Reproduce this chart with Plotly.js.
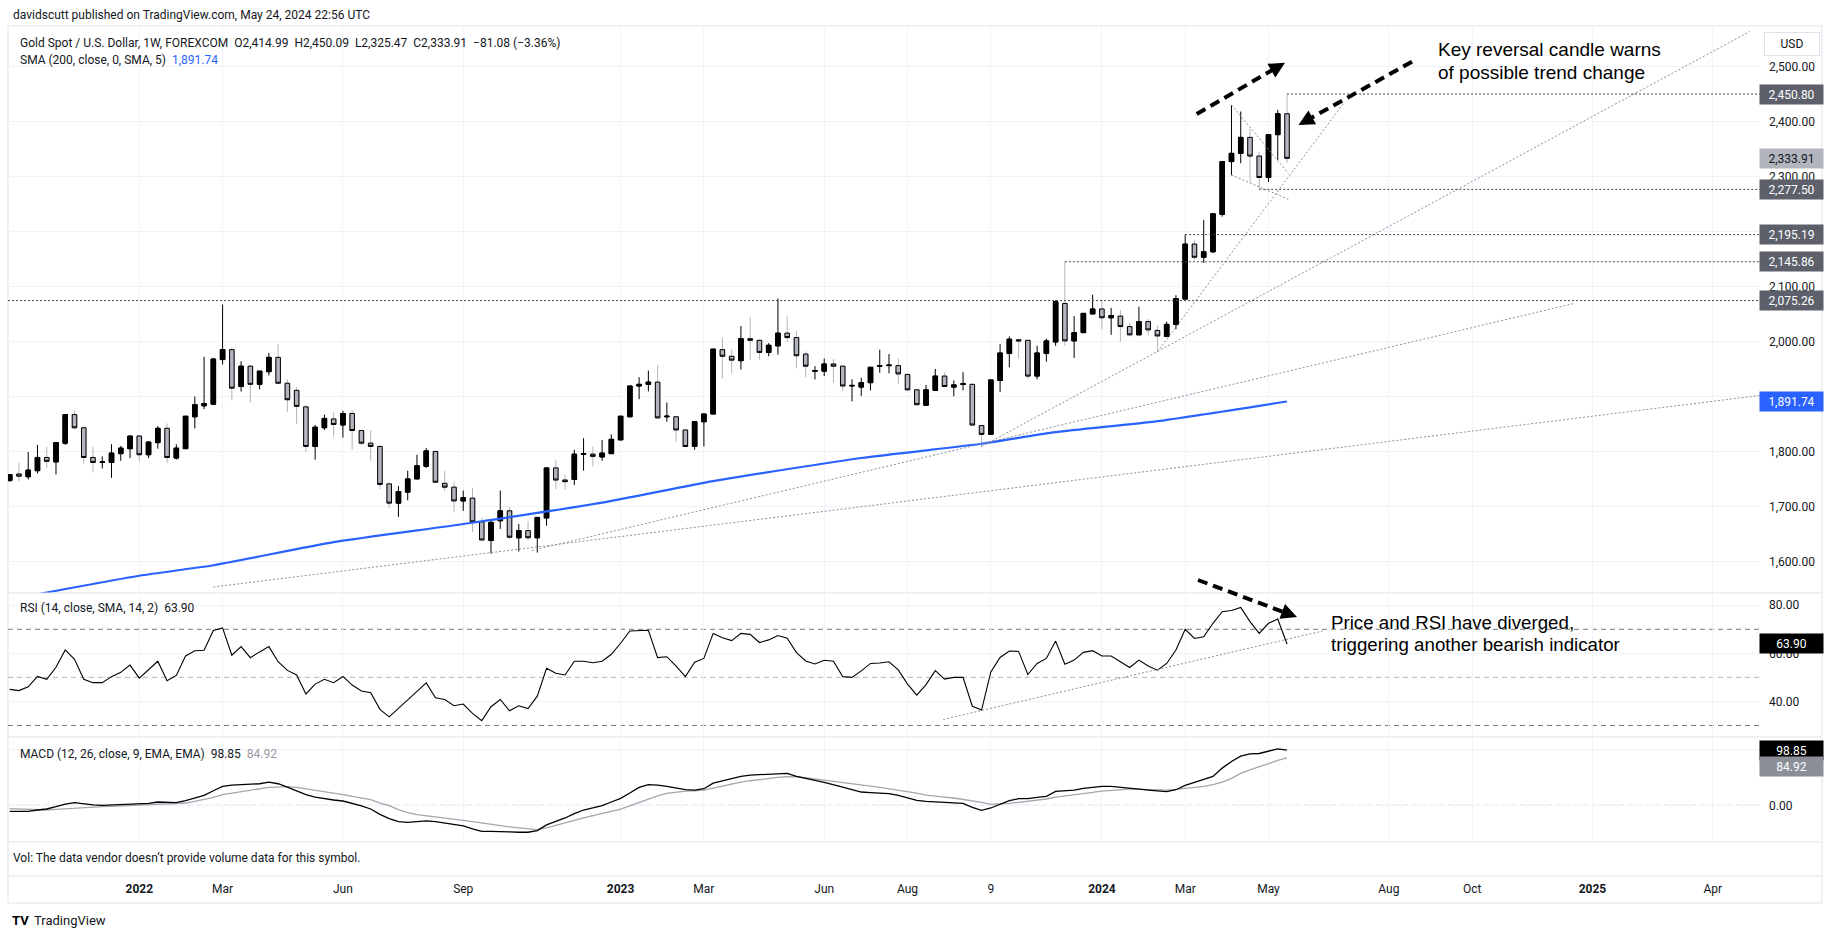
<!DOCTYPE html>
<html>
<head>
<meta charset="utf-8">
<script src="https://cdn.plot.ly/plotly-3.0.1.min.js"></script>
<style>
html, body { margin: 0; padding: 0; background: #ffffff; }
#chart { width: 1835px; height: 939px; }
</style>
</head>
<body>
<div id="chart"></div>
<script>
// Gold spot weekly bars, Monday dates, first bar 2021-09-27
var firstWeek = Date.UTC(2021, 8, 27);

var open = [1748,1760,1755,1766,1790,1782,1816,1868,1844,1790,1781,1781,1797,1806,1829,1795,1817,1843,1789,1806,
  1864,1884,1887,1968,1986,1919,1956,1923,1946,1972,1925,1912,1882,1810,1844,1860,1849,1870,1839,1816,
  1810,1742,1707,1727,1751,1774,1801,1743,1736,1711,1716,1673,1639,1675,1693,1644,1657,1644,1680,1771,
  1749,1750,1796,1796,1791,1797,1822,1864,1920,1923,1927,1864,1864,1840,1810,1855,1869,1986,1974,1966,
  2006,2003,1981,1993,2016,2008,1978,1947,1947,1960,1956,1920,1918,1926,1956,1957,1957,1941,1913,1885,
  1912,1938,1918,1923,1923,1848,1832,1930,1979,2004,2003,1938,1979,2000,2070,2002,2017,2051,2060,2044,
  2047,2028,2013,2037,2021,2010,2032,2078,2178,2154,2164,2232,2328,2343,2372,2338,2299,2377,2414.99];
var high = [1760,1780,1800,1813,1809,1817,1868,1875,1846,1809,1792,1814,1811,1829,1830,1820,1847,1852,1814,1865,
  1901,1973,1970,2068,1989,1965,1958,1947,1980,1996,1933,1918,1885,1849,1868,1873,1875,1876,1840,1840,
  1813,1744,1738,1766,1795,1807,1802,1766,1746,1730,1735,1680,1675,1730,1700,1669,1674,1681,1772,1786,
  1759,1804,1825,1810,1822,1832,1865,1920,1936,1948,1958,1890,1865,1841,1855,1869,1987,2008,1987,2029,
  2046,2004,1998,2079,2047,2020,1983,1956,1970,1969,1957,1932,1935,1954,1986,1978,1970,1942,1914,1922,
  1951,1945,1930,1945,1924,1849,1931,1996,2010,2006,2004,1993,2006,2076,2146,2047,2052,2086,2077,2062,
  2058,2035,2064,2042,2030,2037,2085,2195,2185,2222,2234,2328,2431,2419,2388,2346,2377,2422,2450.09];
var low = [1746,1747,1750,1761,1771,1759,1813,1841,1779,1763,1770,1753,1784,1789,1783,1789,1806,1780,1786,1806,
  1843,1878,1886,1959,1894,1910,1890,1914,1939,1924,1873,1851,1800,1786,1840,1828,1826,1804,1813,1784,
  1732,1698,1682,1712,1751,1771,1744,1729,1690,1693,1654,1639,1615,1660,1642,1619,1639,1617,1666,1732,
  1732,1740,1766,1774,1784,1797,1822,1864,1896,1910,1860,1855,1819,1810,1804,1810,1869,1934,1943,1950,
  1967,1968,1974,1977,2000,1952,1936,1932,1938,1926,1911,1892,1902,1912,1944,1943,1924,1911,1885,1885,
  1912,1918,1901,1912,1848,1810,1832,1909,1954,1970,1933,1932,1964,1993,1993,1971,2016,2051,2023,2013,
  2000,2010,2013,2012,1984,2010,2023,2076,2149,2144,2162,2228,2303,2325,2291,2277.5,2291,2331,2325.47];
var close = [1759,1756,1767,1790,1783,1817,1868,1844,1790,1781,1782,1798,1807,1829,1795,1818,1843,1790,1807,1865,
  1886,1888,1969,1986,1916,1956,1923,1947,1972,1925,1895,1883,1810,1845,1861,1850,1870,1839,1816,1810,
  1741,1707,1728,1751,1775,1802,1745,1736,1711,1717,1673,1640,1672,1693,1645,1657,1644,1681,1771,1749,
  1746,1796,1797,1792,1798,1823,1865,1920,1923,1927,1862,1865,1840,1810,1855,1869,1987,1974,1967,2006,
  2003,1981,1994,2016,2008,1975,1956,1948,1960,1956,1920,1921,1926,1954,1957,1958,1942,1913,1886,1913,
  1938,1919,1922,1924,1849,1832,1931,1980,2005,2002,1938,1980,2002,2073,2002,2017,2052,2060,2044,2048,
  2028,2013,2037,2022,2011,2032,2079,2178,2154,2164,2233,2328,2343,2372,2338,2299,2377,2415,2333.91];

// SMA 200 read at a few weeks
var smaDates = ['2021-09-27','2022-01-03','2022-02-28','2022-05-30','2022-09-05','2022-12-19',
  '2023-03-13','2023-07-03','2023-10-02','2023-11-27','2024-02-12','2024-05-20'];
var smaValues = [1532,1575,1594,1636,1669,1708,1747,1789,1815,1836,1856,1891.74];

var rsi = [45.0,44.5,46.1,50.4,49.2,54.2,61.4,57.5,49.2,47.8,
  47.8,50.3,52.1,55.1,49.7,53.2,56.7,48.6,50.8,58.9,
  61.1,61.3,69.5,70.6,59.2,62.8,58.2,60.6,62.8,56.5,
  52.9,51.0,43.1,47.2,49.2,47.8,50.4,46.8,44.3,43.6,
  36.7,33.6,37.0,40.4,44.2,47.7,41.5,40.8,38.2,38.9,
  35.0,32.0,37.8,40.8,36.1,38.2,37.0,42.2,53.8,51.7,
  51.0,56.7,56.7,56.1,56.7,59.6,64.2,69.3,69.5,69.6,
  58.2,58.6,54.7,50.3,56.3,57.9,68.3,66.5,65.3,68.3,
  67.9,64.5,65.6,67.4,66.3,60.3,56.8,55.6,57.1,56.7,
  50.3,50.0,52.7,55.8,56.0,56.5,53.1,47.2,42.6,47.0,
  52.8,49.3,50.0,50.0,38.0,36.4,52.3,58.3,61.0,60.8,
  51.2,55.8,57.9,65.1,55.5,57.2,60.4,61.1,58.9,58.9,
  56.5,54.1,57.2,54.7,53.0,55.8,61.4,70.0,66.2,66.9,
  72.5,77.3,77.8,79.1,73.2,68.3,72.5,74.3,63.9];

var macd = [-10.8,-10.8,-10.8,-8.4,-6.6,-2.4,2.3,4.7,2.3,0.6,
  0,0.6,1.7,2.3,2.9,3.5,5.9,5.3,4.7,8.3,
  12.5,17.8,26.1,33.9,36.3,37.4,38,38.6,41.6,38.6,
  32.7,26.1,19,14.8,11.9,9.5,7.7,3.5,-1.2,-6.6,
  -16.1,-23.8,-29.2,-30.4,-28.6,-28,-29.2,-31.6,-34,-36.9,
  -42.3,-46.5,-46.5,-46.5,-47.6,-48.2,-48.2,-45.3,-35.1,-28.6,
  -22.7,-14.9,-8.4,-4.8,-0.6,5.9,12.5,22,32.1,36.9,
  36.3,33.9,31.5,27.9,27.3,29.7,39.8,44,47.6,51.7,
  54.1,54.7,55.3,56.5,57.1,51.7,48.8,44.6,41,37.4,
  32.7,27.9,23.8,22.6,21.4,20.8,17.8,13.6,8.9,7.1,
  5.9,4.7,4.1,3.5,-3.6,-9,-4.8,1.7,8.3,11.9,
  11.9,14.2,16,25,26.1,27.3,30.3,32.7,33.9,33.9,
  32.7,30.3,29.1,27.3,25.5,24.4,27.9,35.7,41,45.8,
  51.7,66.6,78.5,88,92.2,92.8,97,101.1,98.85];

var signal = [-6,-6.6,-7.2,-7.8,-8.4,-7.2,-6,-4.8,-3.6,-3,
  -2.4,-1.8,-1.2,0,0.6,1.7,2.3,2.9,3.5,4.1,
  7.1,10.1,14.2,19,21.4,24.4,27.3,29.7,32.1,32.7,
  33.3,32.1,29.7,27.3,25,22.6,19,16,13.1,10.1,
  4.1,-0.6,-7.8,-13.1,-16.7,-18.5,-21.5,-22.7,-24.4,-26.8,
  -29.2,-31.6,-35.1,-36.9,-38.7,-40.5,-42.3,-43.5,-40.5,-35.7,
  -31.6,-26.8,-22.7,-19.1,-14.9,-11.3,-7,-1,5,11,
  17,21.5,24,25.5,26.1,27.3,30.9,34.5,38.6,41.6,
  44,46.4,48.8,49.9,51.1,51.1,49.3,47.6,45.2,42.8,
  41,38.6,36.3,34.5,32.1,29.7,27.9,25.5,22,18.4,
  16,14.8,13.1,10.7,8.3,5.3,1.7,2.3,3.5,5.3,
  7.1,9.5,11.3,14.8,16.6,19,21.4,23.2,25.5,26.7,
  28.5,29.1,29.1,28.5,27.9,27.3,28.5,30.3,31.5,33.9,
  36.9,41.6,48.2,57.1,63.6,69.6,75.5,80.3,84.92];

// horizontal price levels drawn on the chart
var levelValues = [2450.80, 2277.50, 2195.19, 2145.86, 2075.26];
var levelStarts = ['2024-05-20', '2024-04-29', '2024-03-04', '2023-12-04', '2021-09-25 17:00'];

// dotted trend lines (start date, start price, end date, end price)
var trendStartDates = ['2022-02-28', '2022-10-27', '2023-10-02', '2024-02-12', '2024-04-08', '2024-04-08'];
var trendStartValues = [1554.5, 1621, 1810, 1982, 2431, 2303.6];
var trendEndDates = ['2025-05-12', '2024-12-23', '2025-05-05', '2024-07-02', '2024-05-21', '2024-05-21'];
var trendEndValues = [1902.6, 2070, 2564.6, 2434.5, 2306.7, 2259.5];

var rsiTrendDates = ['2023-09-03', '2024-06-16'];
var rsiTrendValues = [32.5, 69.3];

var tickDates = ['2022-01-03','2022-03-07','2022-06-06','2022-09-05','2023-01-02','2023-03-06','2023-06-05',
  '2023-08-07','2023-10-09','2024-01-01','2024-03-04','2024-05-06','2024-08-05','2024-10-07','2025-01-06','2025-04-07'];
var tickLabels = ['<b>2022</b>','Mar','Jun','Sep','<b>2023</b>','Mar','Jun','Aug','9','<b>2024</b>','Mar','May',
  'Aug','Oct','<b>2025</b>','Apr'];

var weeks = open.map(function (v, i) {
  return new Date(firstWeek + i * 7 * 86400000).toISOString().slice(0, 10);
});

var W = 1835, H = 939;
function px(x) { return x / W; }
function py(y) { return 1 - y / H; }
function fmt(v) {
  return v.toLocaleString('en-US', { minimumFractionDigits: 2, maximumFractionDigits: 2 });
}

var xStart = '2021-09-25 17:00', xEnd = '2025-05-12 17:00';
var dark = '#131722';

var traces = [];

// full candles: wick colours
traces.push({
  type: 'candlestick', x: weeks, open: open, high: high, low: low, close: close,
  xaxis: 'x', yaxis: 'y', whiskerwidth: 0, hoverinfo: 'skip',
  increasing: { line: { color: '#000000', width: 1 }, fillcolor: '#000000' },
  decreasing: { line: { color: '#b2b5be', width: 1 }, fillcolor: '#b2b5be' }
});
// bodies again with black borders
traces.push({
  type: 'candlestick', x: weeks, open: open, close: close,
  high: open.map(function (o, i) { return Math.max(o, close[i]); }),
  low: open.map(function (o, i) { return Math.min(o, close[i]); }),
  xaxis: 'x', yaxis: 'y', whiskerwidth: 0, hoverinfo: 'skip',
  increasing: { line: { color: '#000000', width: 1 }, fillcolor: '#000000' },
  decreasing: { line: { color: '#000000', width: 1 }, fillcolor: '#b2b5be' }
});

traces.push({
  type: 'scatter', mode: 'lines', x: smaDates, y: smaValues, xaxis: 'x', yaxis: 'y',
  line: { color: '#2962ff', width: 2.2, shape: 'spline', smoothing: 0.6 }, hoverinfo: 'skip'
});

for (var i = 0; i < trendStartDates.length; i++) {
  traces.push({
    type: 'scatter', mode: 'lines', xaxis: 'x', yaxis: 'y', hoverinfo: 'skip',
    x: [trendStartDates[i], trendEndDates[i]], y: [trendStartValues[i], trendEndValues[i]],
    line: { color: '#8c8f99', width: 1, dash: '2px,2px' }
  });
}
for (var j = 0; j < levelValues.length; j++) {
  traces.push({
    type: 'scatter', mode: 'lines', xaxis: 'x', yaxis: 'y', hoverinfo: 'skip',
    x: [levelStarts[j], xEnd], y: [levelValues[j], levelValues[j]],
    line: { color: '#434651', width: 1, dash: '2px,2px' }
  });
}

// RSI pane
traces.push({
  type: 'scatter', mode: 'lines', x: weeks, y: rsi, xaxis: 'x', yaxis: 'y2',
  line: { color: '#000000', width: 1.1 }, hoverinfo: 'skip'
});
traces.push({
  type: 'scatter', mode: 'lines', x: rsiTrendDates, y: rsiTrendValues, xaxis: 'x', yaxis: 'y2',
  line: { color: '#8c8f99', width: 1, dash: '2px,2px' }, hoverinfo: 'skip'
});

// MACD pane
traces.push({
  type: 'scatter', mode: 'lines', x: weeks, y: signal, xaxis: 'x', yaxis: 'y3',
  line: { color: '#a3a6af', width: 1.3 }, hoverinfo: 'skip'
});
traces.push({
  type: 'scatter', mode: 'lines', x: weeks, y: macd, xaxis: 'x', yaxis: 'y3',
  line: { color: '#000000', width: 1.3 }, hoverinfo: 'skip'
});

var shapes = [];
var annotations = [];

// frame and pane separators
shapes.push({ type: 'rect', xref: 'paper', yref: 'paper', x0: px(8), x1: px(1822), y0: py(903), y1: py(26),
  line: { color: '#e0e3eb', width: 1 }, layer: 'below' });
[593, 737, 842, 876].forEach(function (y) {
  shapes.push({ type: 'line', xref: 'paper', yref: 'paper', x0: px(8), x1: px(1822), y0: py(y), y1: py(y),
    line: { color: '#e0e3eb', width: 1 } });
});

// RSI bands and MACD zero
[[70, '#787b86'], [50, '#b2b5be'], [30, '#787b86']].forEach(function (b) {
  shapes.push({ type: 'line', xref: 'paper', yref: 'y2', x0: px(8), x1: px(1760), y0: b[0], y1: b[0],
    line: { color: b[1], width: 1, dash: '5px,4px' }, layer: 'between' });
});
shapes.push({ type: 'line', xref: 'paper', yref: 'y3', x0: px(8), x1: px(1760), y0: 0, y1: 0,
  line: { color: '#b2b5be', width: 1, dash: '5px,4px' }, layer: 'between' });

// dashed arrows (pixel positions of the drawings)
var arrowPx = [
  [1196.7, 114, 1285, 62.7],
  [1412, 61.7, 1298.5, 125],
  [1198, 580, 1297, 617]
];
arrowPx.forEach(function (a) {
  var dx = a[2] - a[0], dy = a[3] - a[1];
  var len = Math.sqrt(dx * dx + dy * dy), ux = dx / len, uy = dy / len;
  shapes.push({ type: 'line', xref: 'paper', yref: 'paper',
    x0: px(a[0]), y0: py(a[1]), x1: px(a[2] - ux * 10), y1: py(a[3] - uy * 10),
    line: { color: '#000000', width: 4, dash: '10px,6px' } });
  annotations.push({ xref: 'paper', yref: 'paper', x: px(a[2]), y: py(a[3]),
    ax: -ux * 16, ay: -uy * 16, showarrow: true, arrowhead: 2, arrowsize: 0.9,
    arrowwidth: 3.5, arrowcolor: '#000000', text: '' });
});

// price scale labels
function tag(yref, value, text, bg, fg, yshift) {
  annotations.push({ xref: 'paper', x: px(1759), xanchor: 'left', yref: yref, y: value, yanchor: 'middle',
    text: text, showarrow: false, bgcolor: bg, font: { color: fg, size: 12, family: 'Roboto' },
    width: 57, height: 13, borderpad: 3, align: 'center', yshift: yshift || 0 });
}
levelValues.forEach(function (v) { tag('y', v, fmt(v), '#5d606b', '#ffffff'); });
tag('y', close[close.length - 1], fmt(close[close.length - 1]), '#b2b5be', dark);
tag('y', smaValues[smaValues.length - 1], fmt(smaValues[smaValues.length - 1]), '#2962ff', '#ffffff');
tag('y2', rsi[rsi.length - 1], rsi[rsi.length - 1].toFixed(2), '#000000', '#ffffff');
tag('y3', macd[macd.length - 1], macd[macd.length - 1].toFixed(2), '#000000', '#ffffff');
tag('y3', signal[signal.length - 1], signal[signal.length - 1].toFixed(2), '#8b8e97', '#ffffff', -9);

annotations.push({ xref: 'paper', yref: 'paper', x: px(1764), y: py(44), xanchor: 'left', yanchor: 'middle',
  text: 'USD', showarrow: false, bgcolor: '#ffffff', bordercolor: '#e0e3eb', borderwidth: 1,
  width: 50, height: 18, borderpad: 2, font: { size: 12, color: dark } });

// legends and captions
function label(x, y, text, size, family, color) {
  annotations.push({ xref: 'paper', yref: 'paper', x: px(x), y: py(y), xanchor: 'left', yanchor: 'middle',
    text: text, showarrow: false, align: 'left',
    font: { size: size || 12, family: family || 'Roboto', color: color || dark } });
}
var sp = '\u00a0\u00a0';
label(11, 15, 'davidscutt published on TradingView.com, May 24, 2024 22:56 UTC');
label(18, 43, 'Gold Spot / U.S. Dollar, 1W, FOREXCOM' + sp + 'O2,414.99' + sp + 'H2,450.09' + sp +
  'L2,325.47' + sp + 'C2,333.91' + sp + '\u221281.08 (\u22123.36%)');
label(18, 60, 'SMA (200, close, 0, SMA, 5)' + sp + '<span style="color:#2962ff">1,891.74</span>');
label(18, 608, 'RSI (14, close, SMA, 14, 2)' + sp + '63.90');
label(18, 754, 'MACD (12, 26, close, 9, EMA, EMA)' + sp + '98.85' + sp + '<span style="color:#9598a1">84.92</span>');
label(11, 858, 'Vol: The data vendor doesn\u2019t provide volume data for this symbol.');
label(10, 920, '<b>TV</b>', 13, 'Roboto', '#000000');
label(32, 920, 'TradingView', 13, 'Roboto', '#131722');

label(1436, 49.5, 'Key reversal candle warns', 19, 'Liberation Sans', '#000000');
label(1436, 72.5, 'of possible trend change', 19, 'Liberation Sans', '#000000');
label(1329, 622, 'Price and RSI have diverged,', 18.7, 'Liberation Sans', '#000000');
label(1329, 644.5, 'triggering another bearish indicator', 18.7, 'Liberation Sans', '#000000');

var grid = '#f0f3fa';
var yCommon = {
  side: 'right', anchor: 'x', showline: false, zeroline: false, ticks: '',
  gridcolor: grid, gridwidth: 1, ticklabelstandoff: 8,
  tickfont: { family: 'Roboto', size: 12, color: dark }, fixedrange: true
};

var layout = {
  width: W, height: H,
  margin: { l: 0, r: 0, t: 0, b: 0 },
  paper_bgcolor: '#ffffff', plot_bgcolor: '#ffffff',
  showlegend: false, hovermode: false, dragmode: false,
  font: { family: 'Roboto', size: 12, color: dark },
  xaxis: {
    type: 'date', domain: [px(8), px(1760)], range: [xStart, xEnd],
    anchor: 'free', position: py(880),
    tickvals: tickDates, ticktext: tickLabels, ticks: '',
    showgrid: true, gridcolor: grid, showline: false, zeroline: false,
    rangeslider: { visible: false }, fixedrange: true,
    tickfont: { family: 'Roboto', size: 12, color: dark }
  },
  yaxis: Object.assign({}, yCommon, {
    domain: [py(593), py(26)], range: [1543.6, 2574.5], dtick: 100, tick0: 0, tickformat: ',.2f'
  }),
  yaxis2: Object.assign({}, yCommon, {
    domain: [py(737), py(593)], range: [25.2, 85.1], tickvals: [40, 60, 80], tickformat: '.2f'
  }),
  yaxis3: Object.assign({}, yCommon, {
    domain: [py(842), py(737)], range: [-65.7, 122.3], tickvals: [0, 100], tickformat: '.2f'
  }),
  shapes: shapes,
  annotations: annotations
};

Plotly.newPlot('chart', traces, layout, { staticPlot: true, displayModeBar: false });
</script>
</body>
</html>
